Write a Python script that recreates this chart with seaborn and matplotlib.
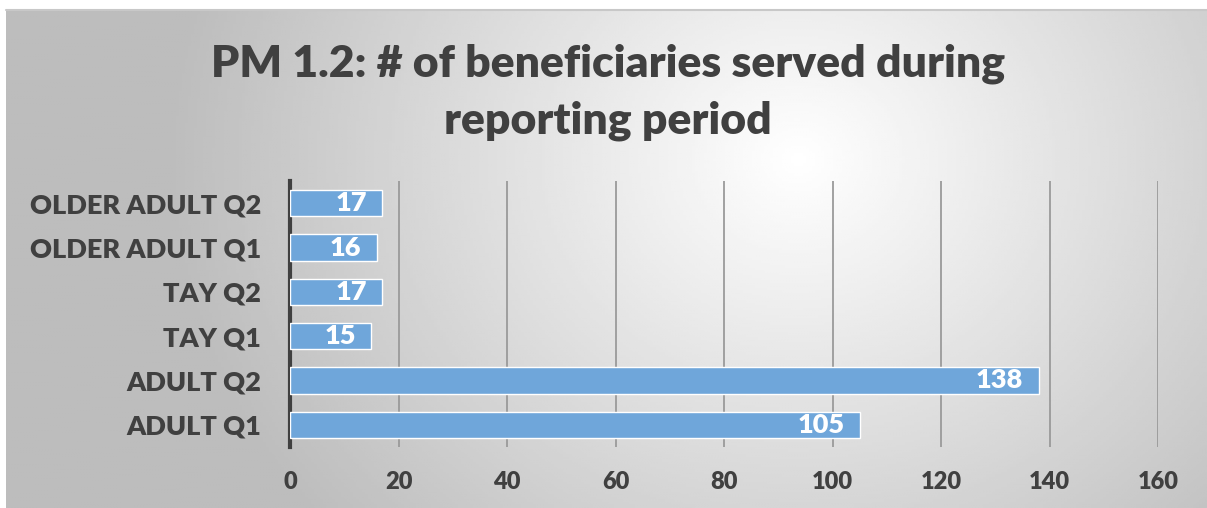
import numpy as np
import matplotlib
matplotlib.use("Agg")
import matplotlib.pyplot as plt
import seaborn as sns

# chart data
categories = ["OLDER ADULT Q2", "OLDER ADULT Q1", "TAY Q2", "TAY Q1", "ADULT Q2", "ADULT Q1"]
served = [17, 16, 17, 15, 138, 105]
x_ticks = [0, 20, 40, 60, 80, 100, 120, 140, 160]
title = "PM 1.2: # of beneficiaries served during\nreporting period"

sns.set_style("white")
plt.rcParams["font.family"] = ["Lato", "DejaVu Sans"]
text_color = "#404040"
bar_color = "#6FA6DA"
weight = "heavy"

W, H = 1207, 508
fig = plt.figure(figsize=(W / 100, H / 100), dpi=100)

# radial gradient panel behind the chart
bg = fig.add_axes([6 / W, 0, 1 - 6 / W, 1 - 10 / H], zorder=0)
gx, gy = np.meshgrid(np.linspace(0, 1, 400), np.linspace(0, 1, 200))
dist = np.sqrt(((gx - 0.66) / 0.75) ** 2 + ((gy - 0.30) / 1.6) ** 2)
shade = np.clip(1 - 0.27 * dist / dist.max() * 1.35, 0.74, 1.0)
bg.imshow(shade, cmap="gray", vmin=0, vmax=1, aspect="auto", extent=[0, 1, 1, 0])
bg.set_axis_off()
fig.add_artist(plt.Line2D([6 / W, 1], [1 - 10 / H, 1 - 10 / H], color="#C8C8C8", lw=1.5))

ax = fig.add_axes([290 / W, 1 - 447 / H, 868 / W, 266 / H], zorder=1)
ax.patch.set_alpha(0)
sns.barplot(x=served, y=categories, orient="h", color=bar_color, saturation=1,
            width=0.6, edgecolor="white", linewidth=1, ax=ax, zorder=3)

for i, v in enumerate(served):
    ax.annotate(str(v), (v, i), xytext=(-11, 0), textcoords="offset points",
                ha="right", va="center", color="white", fontsize=19.5, fontweight=weight, zorder=4)

ax.set_xlim(0, 160)
ax.set_xticks(x_ticks)
ax.xaxis.grid(True, color="#9A9A9A", lw=1.3, zorder=0)
ax.set_axisbelow(True)
for s in ["top", "right", "bottom"]:
    ax.spines[s].set_visible(False)
ax.spines["left"].set_color(text_color)
ax.spines["left"].set_linewidth(3)
ax.tick_params(axis="both", length=0, colors=text_color)
ax.tick_params(axis="x", pad=17)
ax.tick_params(axis="y", pad=21)
for lab in ax.get_xticklabels():
    lab.set_fontsize(17)
    lab.set_fontweight(weight)
for lab in ax.get_yticklabels():
    lab.set_fontsize(19.5)
    lab.set_fontweight(weight)
ax.set_xlabel("")
ax.set_ylabel("")

fig.text(608 / W, 1 - 92 / H, title, ha="center", va="center", fontsize=32,
         fontweight=weight, color=text_color, linespacing=1.5)

fig.savefig("out.png", dpi=100, facecolor="white")
